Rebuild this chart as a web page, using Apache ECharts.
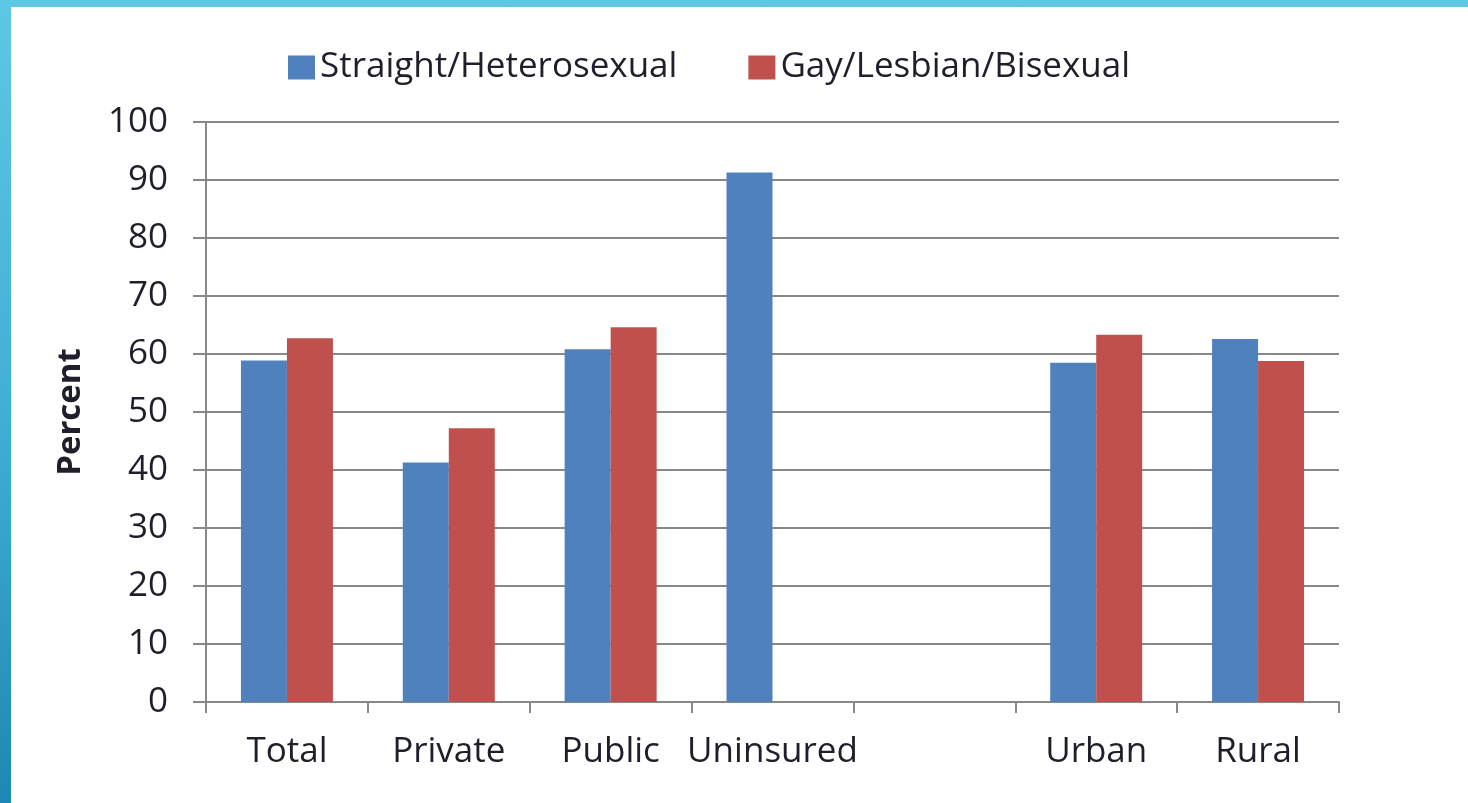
<!DOCTYPE html>
<html lang="en">
<head>
    <meta charset="UTF-8">
    <title>Percent by insurance and residence</title>
    <script src="https://cdn.jsdelivr.net/npm/echarts@6/dist/echarts.min.js"></script>
    <style>
        html, body { margin: 0; padding: 0; width: 1468px; height: 803px; overflow: hidden; }
        body { background: linear-gradient(180deg, #5ec7e3 0%, #3fadd3 55%, #1d88b3 100%); }
        #main { position: absolute; left: 11px; top: 7px; width: 1457px; height: 796px; background: #fff; }
    </style>
</head>
<body>
    <div id="main"></div>
    <script type="text/javascript">
        var categories = ['Total', 'Private', 'Public', 'Uninsured', '', 'Urban', 'Rural'];
        var straight = [58.9, 41.3, 60.8, 91.3, null, 58.5, 62.6];
        var gay = [62.7, 47.2, 64.6, null, null, 63.3, 58.8];
        var yTicks = [0, 100, 10];

        var blue = '#4f81bd';
        var red = '#c0504d';
        var textColor = '#1f1f2b';
        var fontName = 'Open Sans';

        var myChart = echarts.init(document.getElementById('main'));

        myChart.setOption({
            backgroundColor: '#fff',
            animation: false,
            textStyle: { fontFamily: fontName, color: textColor },
            legend: {
                top: 38,
                left: 272,
                itemWidth: 27,
                itemHeight: 24,
                itemGap: 71,
                icon: 'rect',
                textStyle: { fontSize: 35, color: textColor, fontFamily: fontName },
                data: ['Straight/Heterosexual', 'Gay/Lesbian/Bisexual']
            },
            grid: {
                left: 195,
                right: 129,
                top: 115,
                bottom: 101
            },
            xAxis: {
                type: 'category',
                data: categories,
                axisLine: { lineStyle: { color: '#888', width: 2 } },
                axisTick: { show: true, length: 11, interval: 0, lineStyle: { color: '#888', width: 2 } },
                axisLabel: { interval: 0, fontSize: 35, color: textColor, margin: 33, fontFamily: fontName }
            },
            yAxis: {
                type: 'value',
                min: yTicks[0],
                max: yTicks[1],
                interval: yTicks[2],
                name: 'Percent',
                nameLocation: 'middle',
                nameGap: 119,
                nameTextStyle: { fontSize: 33, fontWeight: 'bold', color: textColor, fontFamily: fontName },
                axisLine: { show: true, lineStyle: { color: '#888', width: 2 } },
                axisTick: { show: true, length: 13, lineStyle: { color: '#888', width: 2 } },
                axisLabel: { fontSize: 35, color: textColor, margin: 38, fontFamily: fontName },
                splitLine: { lineStyle: { color: '#888', width: 2 } }
            },
            series: [
                {
                    name: 'Straight/Heterosexual',
                    type: 'bar',
                    data: straight,
                    barWidth: 46,
                    barGap: '0%',
                    itemStyle: { color: blue }
                },
                {
                    name: 'Gay/Lesbian/Bisexual',
                    type: 'bar',
                    data: gay,
                    barWidth: 46,
                    barGap: '0%',
                    itemStyle: { color: red }
                }
            ]
        });
    </script>
</body>
</html>
